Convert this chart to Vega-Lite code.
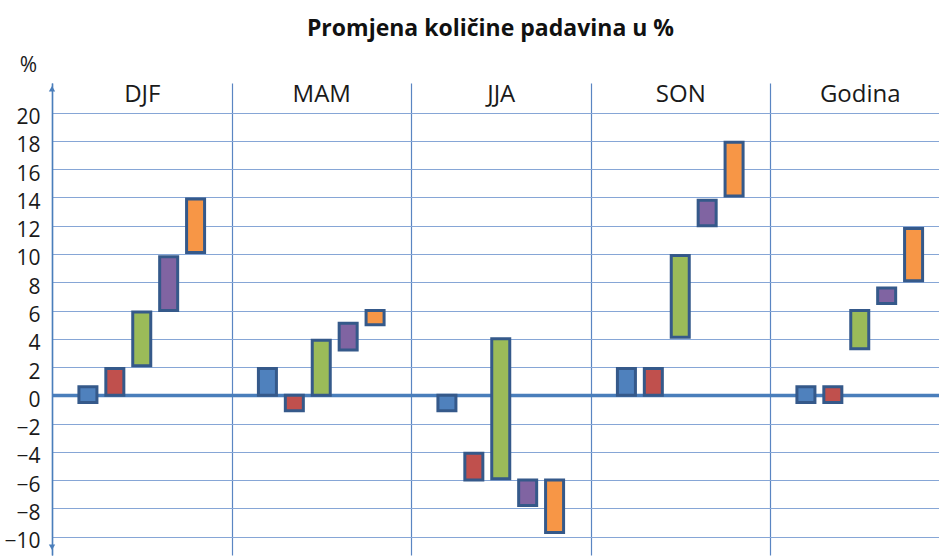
{
  "$schema": "https://vega.github.io/schema/vega-lite/v6.json",
  "width": 887,
  "height": 472,
  "autosize": {"type": "none"},
  "padding": {"left": 52, "top": 83, "right": 0, "bottom": 2},
  "background": "white",
  "title": {
    "text": "Promjena količine padavina u %",
    "font": "Open Sans",
    "fontSize": 23,
    "fontWeight": "bold",
    "color": "#111111",
    "anchor": "middle",
    "frame": "group",
    "dx": -5,
    "dy": -9
  },
  "config": {"view": {"stroke": null}},
  "data": {
    "values": [
      {"season": "DJF", "model": "M1", "lo": -0.5, "hi": 0.6},
      {"season": "DJF", "model": "M2", "lo": 0, "hi": 1.9},
      {"season": "DJF", "model": "M3", "lo": 2.1, "hi": 5.9},
      {"season": "DJF", "model": "M4", "lo": 6.0, "hi": 9.8},
      {"season": "DJF", "model": "M5", "lo": 10.1, "hi": 13.9},
      {"season": "MAM", "model": "M1", "lo": 0, "hi": 1.9},
      {"season": "MAM", "model": "M2", "lo": -1.1, "hi": 0},
      {"season": "MAM", "model": "M3", "lo": 0, "hi": 3.9},
      {"season": "MAM", "model": "M4", "lo": 3.2, "hi": 5.1},
      {"season": "MAM", "model": "M5", "lo": 5.0, "hi": 6.0},
      {"season": "JJA", "model": "M1", "lo": -1.1, "hi": 0},
      {"season": "JJA", "model": "M2", "lo": -6.0, "hi": -4.1},
      {"season": "JJA", "model": "M3", "lo": -5.9, "hi": 4.0},
      {"season": "JJA", "model": "M4", "lo": -7.8, "hi": -6.0},
      {"season": "JJA", "model": "M5", "lo": -9.7, "hi": -6.0},
      {"season": "SON", "model": "M1", "lo": 0, "hi": 1.9},
      {"season": "SON", "model": "M2", "lo": 0, "hi": 1.9},
      {"season": "SON", "model": "M3", "lo": 4.1, "hi": 9.9},
      {"season": "SON", "model": "M4", "lo": 12.0, "hi": 13.8},
      {"season": "SON", "model": "M5", "lo": 14.1, "hi": 17.9},
      {"season": "Godina", "model": "M1", "lo": -0.5, "hi": 0.6},
      {"season": "Godina", "model": "M2", "lo": -0.5, "hi": 0.6},
      {"season": "Godina", "model": "M3", "lo": 3.3, "hi": 6.0},
      {"season": "Godina", "model": "M4", "lo": 6.5, "hi": 7.6},
      {"season": "Godina", "model": "M5", "lo": 8.1, "hi": 11.8}
    ]
  },
  "layer": [
    {
      "mark": {"type": "bar", "stroke": "#35598a", "strokeWidth": 3},
      "encoding": {
        "x": {
          "field": "season",
          "type": "nominal",
          "scale": {
            "domain": ["DJF", "MAM", "JJA", "SON", "Godina"],
            "range": [0, 897.5],
            "paddingInner": 0,
            "paddingOuter": 0
          },
          "axis": {
            "orient": "top",
            "title": null,
            "domain": false,
            "ticks": false,
            "tickSize": 0,
            "labelPadding": -18,
            "labelBaseline": "alphabetic",
            "labelAngle": 0,
            "labelFont": "Open Sans",
            "labelFontSize": 24,
            "labelColor": "#1a1a1a",
            "grid": true,
            "tickBand": "extent",
            "gridColor": "#5a85c2",
            "gridWidth": 1.2
          }
        },
        "xOffset": {
          "field": "model",
          "type": "nominal",
          "scale": {"paddingInner": 0.331, "paddingOuter": 1.2}
        },
        "y": {
          "field": "lo",
          "type": "quantitative",
          "scale": {"domain": [-11.3, 22.1], "nice": false, "zero": false},
          "axis": {
            "values": [-10, -8, -6, -4, -2, 0, 2, 4, 6, 8, 10, 12, 14, 16, 18, 20],
            "tickCount": 40,
            "labelOverlap": false,
            "title": "%",
            "titleAngle": 0,
            "titleX": -24,
            "titleY": -18,
            "titleAlign": "center",
            "titleBaseline": "middle",
            "titleFont": "Open Sans",
            "titleFontSize": 21,
            "titleFontWeight": "normal",
            "titleColor": "#1a1a1a",
            "grid": true,
            "gridColor": {"condition": {"test": "datum.value === 0", "value": "#4a7ebb"}, "value": "#86a6d6"},
            "gridWidth": {"condition": {"test": "datum.value === 0", "value": 3.5}, "value": 1},
            "domain": true,
            "domainColor": "#4a7ebb",
            "domainWidth": 1.5,
            "ticks": false,
            "labelPadding": 12,
            "labelFont": "Open Sans",
            "labelFontSize": 21,
            "labelColor": "#1a1a1a",
            "labelOffset": 5
          }
        },
        "y2": {"field": "hi"},
        "color": {
          "field": "model",
          "type": "nominal",
          "scale": {
            "domain": ["M1", "M2", "M3", "M4", "M5"],
            "range": ["#4f81bd", "#c0504d", "#9bbb59", "#8064a2", "#f79646"]
          },
          "legend": null
        }
      }
    },
    {
      "data": {"values": [{}]},
      "mark": {"type": "point", "shape": "triangle-up", "filled": true, "color": "#4a7ebb", "size": 40, "opacity": 1},
      "encoding": {
        "x": {"datum": "DJF", "bandPosition": 0},
        "y": {"datum": 21.7}
      }
    },
    {
      "data": {"values": [{}]},
      "mark": {"type": "point", "shape": "triangle-down", "filled": true, "color": "#4a7ebb", "size": 40, "opacity": 1},
      "encoding": {
        "x": {"datum": "DJF", "bandPosition": 0},
        "y": {"datum": -10.75}
      }
    }
  ]
}
